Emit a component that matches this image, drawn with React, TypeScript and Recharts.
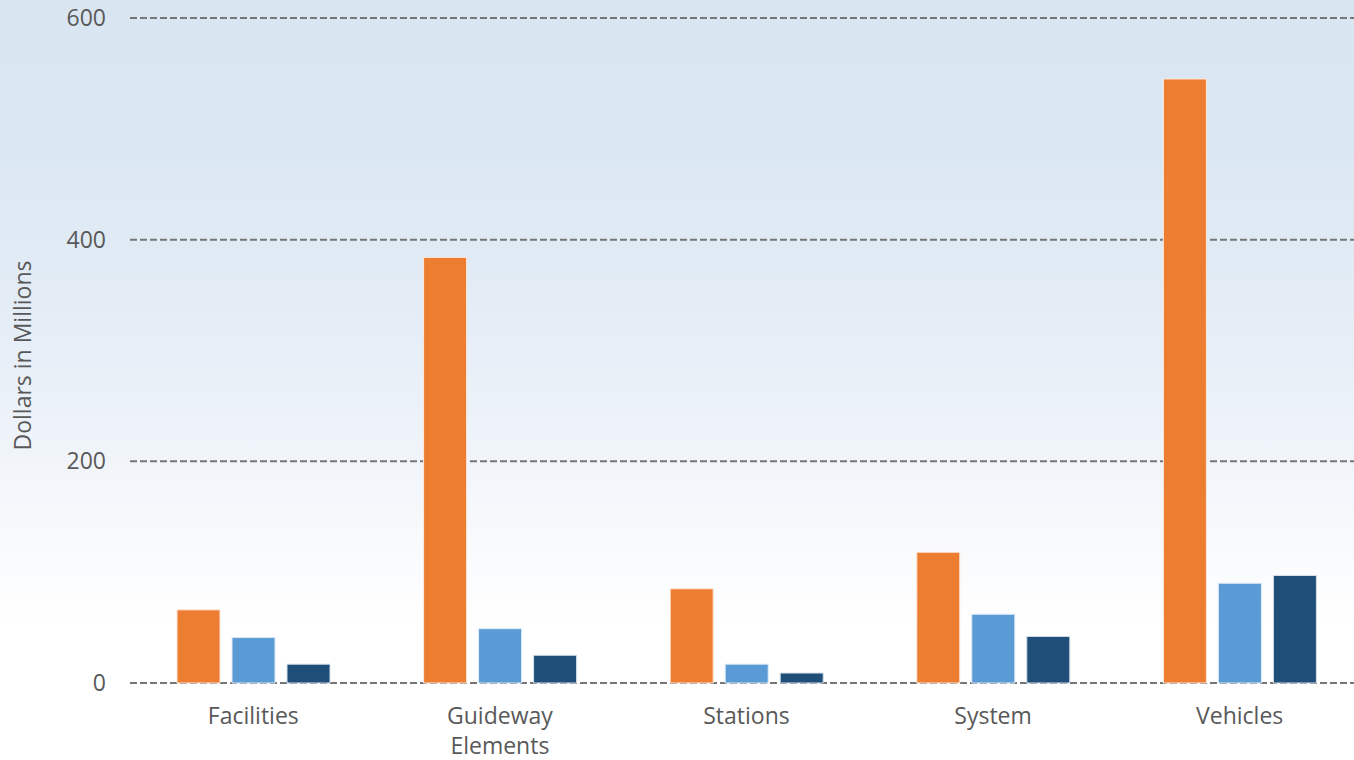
import { BarChart, Bar, XAxis, YAxis, CartesianGrid } from 'recharts';

const categories = ['Facilities', 'Guideway Elements', 'Stations', 'System', 'Vehicles'];
const seriesA = [66, 384, 85, 118, 545];
const seriesB = [41, 49, 17, 62, 90];
const seriesC = [17, 25, 9, 42, 97];
const yTicks = [0, 200, 400, 600];

const ORANGE = '#ED7D31';
const LIGHT_BLUE = '#5B9BD5';
const DARK_BLUE = '#1F4E79';
const TEXT = '#595959';
const FONT = '"Open Sans", sans-serif';

const data = categories.map((name, i) => ({
  name,
  a: seriesA[i],
  b: seriesB[i],
  c: seriesC[i],
}));

function CategoryTick({ x, y, payload }: { x?: number; y?: number; payload?: { value: string } }) {
  const words = (payload?.value ?? '').split(' ');
  return (
    <text x={x} y={(y ?? 0) + 33} textAnchor="middle" fill={TEXT} fontSize={23} fontFamily={FONT}>
      {words.map((w, i) => (
        <tspan key={i} x={x} dy={i === 0 ? 0 : 30}>{w}</tspan>
      ))}
    </text>
  );
}

function YLabel({ viewBox }: { viewBox?: { x: number; y: number; height: number } }) {
  const cx = 22;
  const cy = viewBox ? viewBox.y + viewBox.height / 2 + 5 : 355;
  return (
    <text
      x={cx}
      y={cy}
      transform={`rotate(-90 ${cx} ${cy})`}
      textAnchor="middle"
      dominantBaseline="central"
      fill={TEXT}
      fontSize={23}
      fontFamily={FONT}
    >
      Dollars in Millions
    </text>
  );
}

export default function App() {
  return (
    <div
      style={{
        position: 'fixed',
        left: 0,
        top: 0,
        width: 1354,
        height: 760,
        overflow: 'hidden',
        background: 'linear-gradient(to bottom, #d9e6f2 0%, #dbe7f2 20%, #e6eef7 45%, #f4f7fb 65%, #ffffff 82%, #ffffff 100%)',
      }}
    >
      <BarChart
        width={1363}
        height={760}
        data={data}
        margin={{ top: 18, right: 0, bottom: 0, left: 0 }}
        barSize={43}
        barGap={12}
      >
        <CartesianGrid vertical={false} stroke="#767676" strokeWidth={2} strokeDasharray="7 3" />
        <XAxis
          dataKey="name"
          axisLine={false}
          tickLine={false}
          height={77}
          interval={0}
          tick={<CategoryTick />}
        />
        <YAxis
          domain={[0, 600]}
          ticks={yTicks}
          axisLine={false}
          tickLine={false}
          tickSize={0}
          tickMargin={24}
          width={130}
          tick={{ fill: TEXT, fontSize: 23, fontFamily: FONT }}
          label={<YLabel />}
        />
        <Bar dataKey="a" fill={ORANGE} stroke="#fde9dc" strokeWidth={1} isAnimationActive={false} />
        <Bar dataKey="b" fill={LIGHT_BLUE} stroke="#dbe9f6" strokeWidth={1} isAnimationActive={false} />
        <Bar dataKey="c" fill={DARK_BLUE} stroke="#d6e0ea" strokeWidth={1} isAnimationActive={false} />
      </BarChart>
    </div>
  );
}
